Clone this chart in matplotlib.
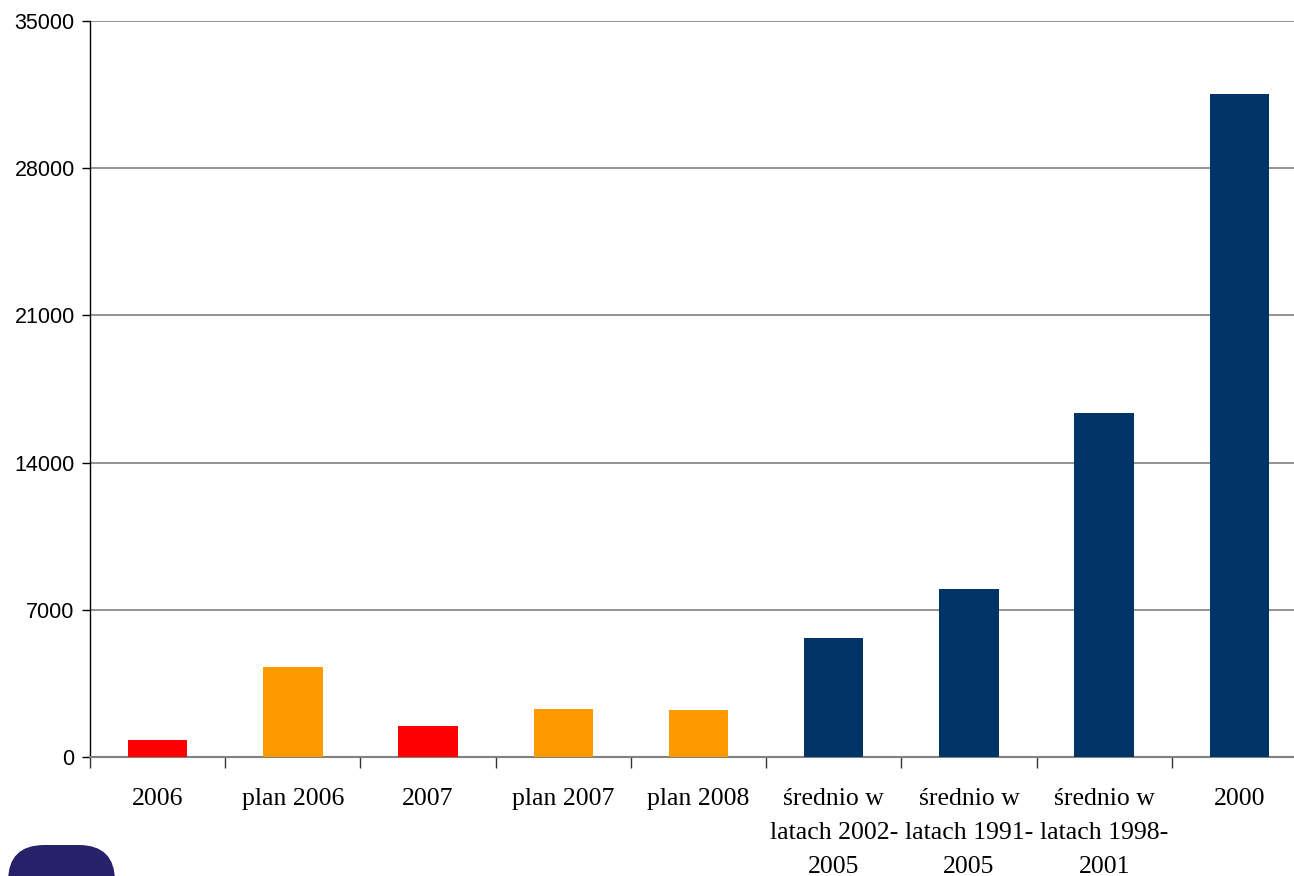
import matplotlib.pyplot as plt
from matplotlib.patches import FancyBboxPatch

categories = ["2006", "plan 2006", "2007", "plan 2007", "plan 2008",
              "średnio w\nlatach 2002-\n2005", "średnio w\nlatach 1991-\n2005",
              "średnio w\nlatach 1998-\n2001", "2000"]
values = [800, 4280, 1480, 2280, 2240, 5650, 7990, 16350, 31520]
colors = ["#FF0000", "#FF9900", "#FF0000", "#FF9900", "#FF9900",
          "#003366", "#003366", "#003366", "#003366"]
yticks = [0, 7000, 14000, 21000, 28000, 35000]

fig = plt.figure(figsize=(12.94, 8.76), dpi=100)
ax = fig.add_axes([90/1294, 119/876, 1217/1294, 736/876])

x = range(len(categories))
ax.bar(x, values, width=0.44, color=colors, zorder=3)

ax.set_xlim(-0.5, len(categories) - 0.5)
ax.set_ylim(0, 35000)
ax.set_yticks(yticks)
ax.set_yticklabels([str(v) for v in yticks], fontsize=15.5, family="Liberation Sans")
ax.yaxis.grid(True, color="#808080", linewidth=1.2, zorder=0)

# ticks between categories, labels centred under bars
ax.set_xticks([i - 0.5 for i in range(len(categories) + 1)])
ax.set_xticklabels([])
ax.set_xticks(list(x), minor=True)
ax.set_xticklabels(categories, minor=True, fontsize=18.5, family="Liberation Serif",
                   linespacing=1.72, va="top")
ax.tick_params(axis="x", which="minor", length=0, pad=22)
ax.tick_params(axis="x", which="major", length=8, width=1, color="#333333")
ax.tick_params(axis="y", length=6, width=1, pad=5)

for s in ["top", "right"]:
    ax.spines[s].set_visible(False)
ax.spines["bottom"].set_color("#808080")
ax.spines["bottom"].set_linewidth(1.5)
ax.spines["left"].set_color("black")
ax.spines["left"].set_linewidth(1)

# logo fragment in the bottom-left corner
logo = FancyBboxPatch((8/1294, -60/876), 107/1294, 91/876,
                      boxstyle="round,pad=0,rounding_size=0.028",
                      transform=fig.transFigure, facecolor="#27216a",
                      edgecolor="none", mutation_aspect=1294/876)
fig.patches.append(logo)

fig.savefig("out.png", dpi=100)
